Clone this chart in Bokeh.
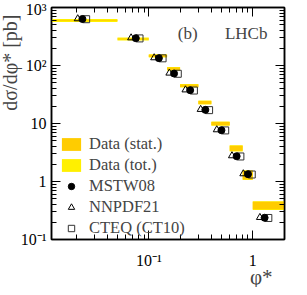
import numpy as np
from bokeh.plotting import figure
from bokeh.models import (ColumnDataSource, LogAxis, FixedTicker, Label, Legend,
                          LegendItem, Range1d, Title)
from bokeh.embed import file_html
from bokeh.resources import INLINE

# ---- data ----
bin_lo = [0.001, 0.05, 0.1, 0.15, 0.2, 0.3, 0.4, 0.6, 0.8, 1.0]
bin_hi = [0.05, 0.1, 0.15, 0.2, 0.3, 0.4, 0.6, 0.8, 1.0, 4.0]
data_xsec = [597, 286, 147, 87.7, 44.7, 23.0, 10.0, 3.75, 1.31, 0.39]
stat_rel = [0.015, 0.02, 0.045, 0.05, 0.05, 0.06, 0.065, 0.10, 0.17, 0.15]
tot_rel = [0.06, 0.06, 0.065, 0.07, 0.07, 0.08, 0.085, 0.12, 0.19, 0.17]

theory_x = [0.023, 0.075, 0.125, 0.175, 0.25, 0.35, 0.5, 0.7, 0.9, 1.3]
mstw08 = [634, 296, 134, 72.8, 37.5, 17.2, 7.66, 2.73, 1.34, 0.237]
nnpdf21 = [640, 300, 136, 74.0, 38.0, 17.5, 7.8, 2.78, 1.36, 0.240]
cteq_ct10 = [628, 293, 133, 72.0, 37.0, 17.0, 7.6, 2.70, 1.32, 0.235]

x_major = [0.1, 1.0]
x_major_labels = ["10\u207b\u00b9", "1"]
y_major = [0.1, 1.0, 10.0, 100.0, 1000.0]
y_major_labels = ["10\u207b\u00b9", "1", "10", "10\u00b2", "10\u00b3"]

legend_labels = ["Data (stat.)", "Data (tot.)", "MSTW08", "NNPDF21", "CTEQ (CT10)"]
x_title = "\u03c6*"
y_title = "d\u03c3/d\u03c6*  [pb]"

X_START, X_END = 0.0116, 2.02
Y_START, Y_END = 0.1, 1000.0

SERIF = "Liberation Serif"

p = figure(width=291, height=287, x_axis_type="log", y_axis_type="log",
           x_range=Range1d(X_START, X_END), y_range=Range1d(Y_START, Y_END),
           output_backend="svg", toolbar_location=None,
           min_border_left=35, min_border_right=7, min_border_top=7,
           min_border_bottom=48)
p.grid.visible = False
p.outline_line_color = "black"
p.outline_line_width = 1.5
p.background_fill_color = "white"

xax = p.below[0]
yax = p.left[0]

# bands
d = np.array(data_xsec)
st = np.array(stat_rel)
tt = np.array(tot_rel)
src = ColumnDataSource(dict(left=bin_lo, right=bin_hi,
                            tb=d * (1 - tt), tt=d * (1 + tt),
                            sb=d * (1 - st), stp=d * (1 + st)))
r_tot = p.quad(left="left", right="right", bottom="tb", top="tt", source=src,
               fill_color="#FFF000", line_color=None)
r_stat = p.quad(left="left", right="right", bottom="sb", top="stp", source=src,
                fill_color="#FFCC00", line_color=None)

# horizontal marker offsets (in screen px converted to log-space factor)
frame_w = 249.0
px_per_dec = frame_w / np.log10(X_END / X_START)
tx = np.array(theory_x)
x_tri = tx * 10 ** (-5.0 / px_per_dec)
x_sq = tx * 10 ** (4.0 / px_per_dec)

r_sq = p.scatter(x_sq, cteq_ct10, marker="square", size=7, fill_color=None,
                 line_color="#333333", line_width=1)
r_tri = p.scatter(x_tri, nnpdf21, marker="triangle", size=7, fill_color=None,
                  line_color="black", line_width=1)
r_circ = p.scatter(tx, mstw08, marker="circle", size=7, fill_color="black",
                   line_color="black")

# axes
xt = FixedTicker(ticks=x_major,
                 minor_ticks=[m * 10.0 ** e for e in (-2, -1, 0) for m in range(2, 10)])
yt = FixedTicker(ticks=y_major,
                 minor_ticks=[m * 10.0 ** e for e in (-1, 0, 1, 2) for m in range(2, 10)])

def style(ax, ticker, overrides, show_labels=True):
    ax.ticker = ticker
    ax.major_tick_in = 9
    ax.major_tick_out = 0
    ax.minor_tick_in = 5
    ax.minor_tick_out = 0
    ax.axis_line_width = 1.5
    ax.major_tick_line_width = 1
    ax.minor_tick_line_width = 1
    ax.major_label_text_font = SERIF
    ax.major_label_text_color = "black"
    if show_labels:
        ax.major_label_overrides = overrides
        ax.major_label_text_font_size = "16px"
    else:
        ax.major_label_overrides = {t: "" for t in overrides}
        ax.major_label_text_font_size = "0px"
        ax.major_label_standoff = 0

style(xax, xt, dict(zip(x_major, x_major_labels)))
style(yax, yt, dict(zip(y_major, y_major_labels)))
xax.major_label_standoff = 12
yax.major_label_standoff = 5

top = LogAxis()
style(top, xt, dict(zip(x_major, x_major_labels)), show_labels=False)
p.add_layout(top, "above")
right = LogAxis()
style(right, yt, dict(zip(y_major, y_major_labels)), show_labels=False)
p.add_layout(right, "right")

# y axis title, aligned to the top of the frame as in the reference
p.add_layout(Title(text=y_title, align="right", text_font=SERIF,
                   text_font_size="20px", text_font_style="normal",
                   standoff=-7, offset=2), "left")
# x axis title at the lower right, just below the tick labels
p.add_layout(Title(text=x_title, align="right", vertical_align="top",
                   text_font=SERIF, text_font_size="21px",
                   text_font_style="normal", standoff=-14, offset=12), "below")

# texts
p.add_layout(Label(x=0.19, y=356, text="(b)", text_font=SERIF,
                   text_font_size="17px", text_baseline="middle"))
p.add_layout(Label(x=0.54, y=356, text="LHCb", text_font=SERIF,
                   text_font_size="17px", text_baseline="middle"))

legend = Legend(items=[LegendItem(label=legend_labels[0], renderers=[r_stat]),
                       LegendItem(label=legend_labels[1], renderers=[r_tot]),
                       LegendItem(label=legend_labels[2], renderers=[r_circ]),
                       LegendItem(label=legend_labels[3], renderers=[r_tri]),
                       LegendItem(label=legend_labels[4], renderers=[r_sq])],
                location=(8, 1), padding=0, margin=0, spacing=1,
                glyph_width=24, glyph_height=16, label_height=16,
                label_standoff=6, label_text_font=SERIF,
                label_text_font_size="16.5px", border_line_color=None,
                background_fill_alpha=0)
p.add_layout(legend)

open("out.html", "w").write(file_html(p, INLINE))
